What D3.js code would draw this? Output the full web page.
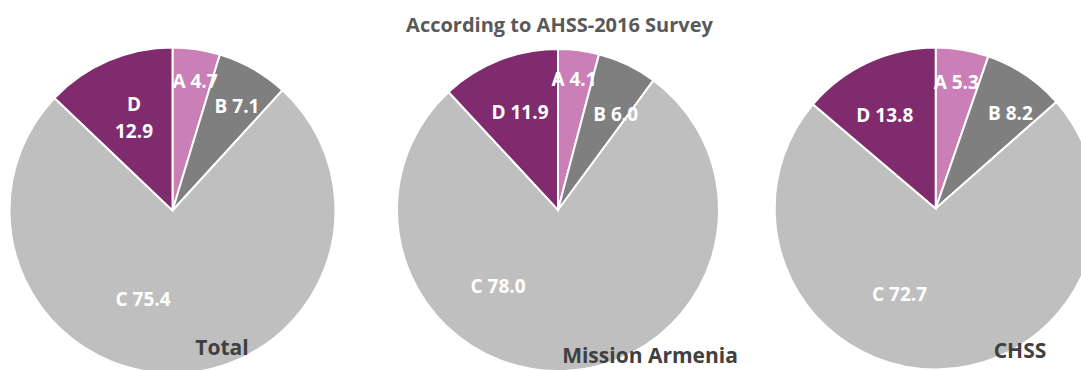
<!DOCTYPE html>
<html>
<head>
<meta charset="utf-8">
<script src="https://cdn.jsdelivr.net/npm/d3@7"></script>
<style>
  html, body { margin: 0; padding: 0; background: #ffffff; }
  svg { display: block; }
  text { font-family: "Open Sans", "Liberation Sans", sans-serif; font-weight: 700; }
</style>
</head>
<body>
<svg id="chart" width="1081" height="370"></svg>
<script>
// Survey shares (%) by category, one array per group
const categories = ["A", "B", "C", "D"];
const groups = ["Total", "Mission Armenia", "CHSS"];
const totalValues = [4.7, 7.1, 75.4, 12.9];
const missionArmeniaValues = [4.1, 6.0, 78.0, 11.9];
const chssValues = [5.3, 8.2, 72.7, 13.8];
const title = "According to AHSS-2016 Survey";

const seriesValues = [totalValues, missionArmeniaValues, chssValues];

// Layout: pie centres/radii and label nudges relative to each centre
const pieLayout = [
  { cx: 172.5, cy: 210.5, r: 163, name: [222, 355] },
  { cx: 558,   cy: 210,   r: 161, name: [650, 363] },
  { cx: 935.7, cy: 208.5, r: 161, name: [1020, 358] }
];
const labelOffsets = [
  { A: [22.5, -129.5], B: [64.5, -104], C: [-29.5, 88.5], D: [-38.5, -106.5], split: true },
  { A: [16, -130.3],   B: [57.7, -95.5], C: [-60, 76],    D: [-38, -97.3] },
  { A: [20.6, -125.8], B: [74.8, -95.2], C: [-36.2, 86],  D: [-50.9, -93] }
];

const colour = d3.scaleOrdinal()
  .domain(categories)
  .range(["#CA80B7", "#7F7F7F", "#BFBFBF", "#7F2B6E"]);

const svg = d3.select("#chart");
const pie = d3.pie().sort(null).value(d => d.value);
const labelSize = 19;
const capShift = labelSize * 0.714 / 2;

seriesValues.forEach((values, gi) => {
  const L = pieLayout[gi];
  const rows = categories.map((c, i) => ({ cat: c, value: values[i] }));
  const arc = d3.arc().innerRadius(0).outerRadius(L.r);
  const g = svg.append("g").attr("transform", `translate(${L.cx},${L.cy})`);

  g.selectAll("path")
    .data(pie(rows))
    .join("path")
    .attr("d", arc)
    .attr("fill", d => colour(d.data.cat))
    .attr("stroke", "#ffffff")
    .attr("stroke-width", 2)
    .attr("stroke-linejoin", "miter");

  const off = labelOffsets[gi];
  rows.forEach(d => {
    const [dx, dy] = off[d.cat];
    const txt = d.value.toFixed(1);
    const t = g.append("text")
      .attr("text-anchor", "middle")
      .attr("fill", "#ffffff")
      .attr("font-size", labelSize);
    if (off.split && d.cat === "D") {
      t.append("tspan").attr("x", dx).attr("y", dy + capShift).text(d.cat);
      t.append("tspan").attr("x", dx).attr("y", dy + 27 + capShift).text(txt);
    } else {
      t.attr("x", dx).attr("y", dy + capShift).text(`${d.cat} ${txt}`);
    }
  });

  svg.append("text")
    .attr("x", L.name[0])
    .attr("y", L.name[1])
    .attr("text-anchor", "middle")
    .attr("fill", "#404040")
    .attr("font-size", 21)
    .text(groups[gi]);
});

svg.append("text")
  .attr("x", 559.5)
  .attr("y", 31.5)
  .attr("text-anchor", "middle")
  .attr("fill", "#595959")
  .attr("font-size", 20)
  .text(title);
</script>
</body>
</html>
